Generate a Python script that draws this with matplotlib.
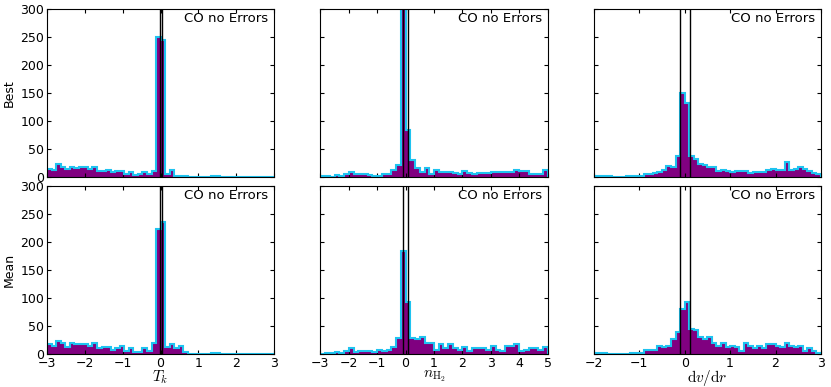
import numpy as np
import matplotlib
matplotlib.use('Agg')
import matplotlib.pyplot as plt

plt.rcParams['mathtext.fontset'] = 'cm'
plt.rcParams['font.family'] = ['DejaVu Sans']

# bin edges for each parameter
tk_edges = np.linspace(-3, 3, 51)
nh2_edges = np.linspace(-3, 5, 49)
dvdr_edges = np.linspace(-2, 3, 51)

# counts per bin
tk_best = [15, 13, 24, 17, 15, 17, 16, 17, 17, 15, 17, 11, 11, 12, 8, 10, 10, 5, 9, 4,
           5, 8, 6, 11, 250, 245, 6, 13, 2, 2, 2, 0, 0, 0, 0, 0, 1, 1, 0, 0,
           0, 0, 0, 0, 0, 0, 0, 0, 0, 0]
tk_mean = [17, 15, 24, 20, 13, 19, 17, 18, 17, 15, 19, 10, 12, 12, 7, 11, 14, 6, 10, 4,
           4, 10, 6, 19, 224, 235, 13, 17, 10, 15, 3, 0, 0, 0, 0, 0, 1, 1, 0, 0,
           0, 0, 0, 0, 0, 0, 0, 0, 0, 0]
nh2_best = [1, 1, 0, 3, 1, 6, 8, 5, 6, 6, 4, 1, 1, 5, 5, 13, 21, 320, 84, 31,
            16, 9, 16, 6, 12, 9, 8, 8, 7, 6, 10, 7, 6, 7, 7, 7, 8, 8, 8, 9,
            8, 13, 10, 10, 6, 6, 5, 13]
nh2_mean = [0, 1, 1, 4, 1, 6, 10, 4, 6, 5, 5, 4, 8, 6, 8, 13, 29, 184, 93, 28,
            27, 31, 20, 20, 8, 18, 10, 18, 10, 7, 12, 6, 10, 10, 10, 7, 14, 7, 6, 15,
            14, 17, 6, 8, 10, 11, 8, 12]
dvdr_best = [1, 1, 1, 1, 0, 0, 0, 1, 1, 1, 1, 6, 6, 7, 9, 13, 19, 18, 37, 150,
             133, 38, 32, 23, 21, 17, 18, 10, 12, 10, 8, 11, 11, 11, 7, 8, 9, 8, 12, 14,
             12, 13, 26, 13, 14, 18, 15, 10, 7, 5]
dvdr_mean = [1, 1, 1, 0, 0, 0, 0, 0, 1, 1, 1, 8, 8, 8, 15, 13, 15, 27, 40, 81,
             93, 45, 43, 31, 26, 31, 19, 15, 19, 13, 15, 13, 6, 19, 14, 10, 14, 10, 18, 18,
             15, 13, 20, 15, 13, 15, 6, 10, 6, 2]

# vertical reference lines
tk_lines = [-0.02, 0.03]
nh2_lines = [-0.09, 0.10]
dvdr_lines = [-0.10, 0.12]

row_labels = ['Best', 'Mean']
x_labels = [r'$T_k$', r'$n_{\rm H_2}$', r'${\rm d}v/{\rm d}r$']
x_limits = [(-3, 3), (-3, 5), (-2, 3)]
edges_all = [tk_edges, nh2_edges, dvdr_edges]
lines_all = [tk_lines, nh2_lines, dvdr_lines]
counts_all = [[tk_best, nh2_best, dvdr_best],
              [tk_mean, nh2_mean, dvdr_mean]]

fig, axes = plt.subplots(2, 3, figsize=(8.31, 3.87), dpi=100)
fig.subplots_adjust(left=47/831, right=821/831, top=1-9/387, bottom=1-354/387,
                    wspace=0.203, hspace=0.054)

for r in range(2):
    for c in range(3):
        ax = axes[r, c]
        edges = edges_all[c]
        counts = counts_all[r][c]
        ax.hist(edges[:-1], bins=edges, weights=counts, histtype='stepfilled',
                color='purple', lw=0)
        ax.hist(edges[:-1], bins=edges, weights=counts, histtype='step',
                color='#1ec3f0', lw=1.5)
        for xv in lines_all[c]:
            ax.axvline(xv, color='k', lw=1)
        ax.set_xlim(x_limits[c])
        ax.set_ylim(0, 300)
        ax.set_yticks(np.arange(0, 301, 50))
        ax.set_xticks(np.arange(x_limits[c][0], x_limits[c][1] + 1, 1))
        ax.tick_params(direction='in', length=3, top=True, right=True,
                       labelsize=9, pad=2)
        ax.text(0.975, 0.985, 'CO no Errors', transform=ax.transAxes,
                ha='right', va='top', fontsize=9.5)
        if c == 0:
            ax.set_ylabel(row_labels[r], fontsize=9, labelpad=3)
        else:
            ax.set_yticklabels([])
        if r == 0:
            ax.set_xticklabels([])
        else:
            ax.set_xlabel(x_labels[c], fontsize=11, labelpad=-1)

plt.savefig('out.png', dpi=100)
